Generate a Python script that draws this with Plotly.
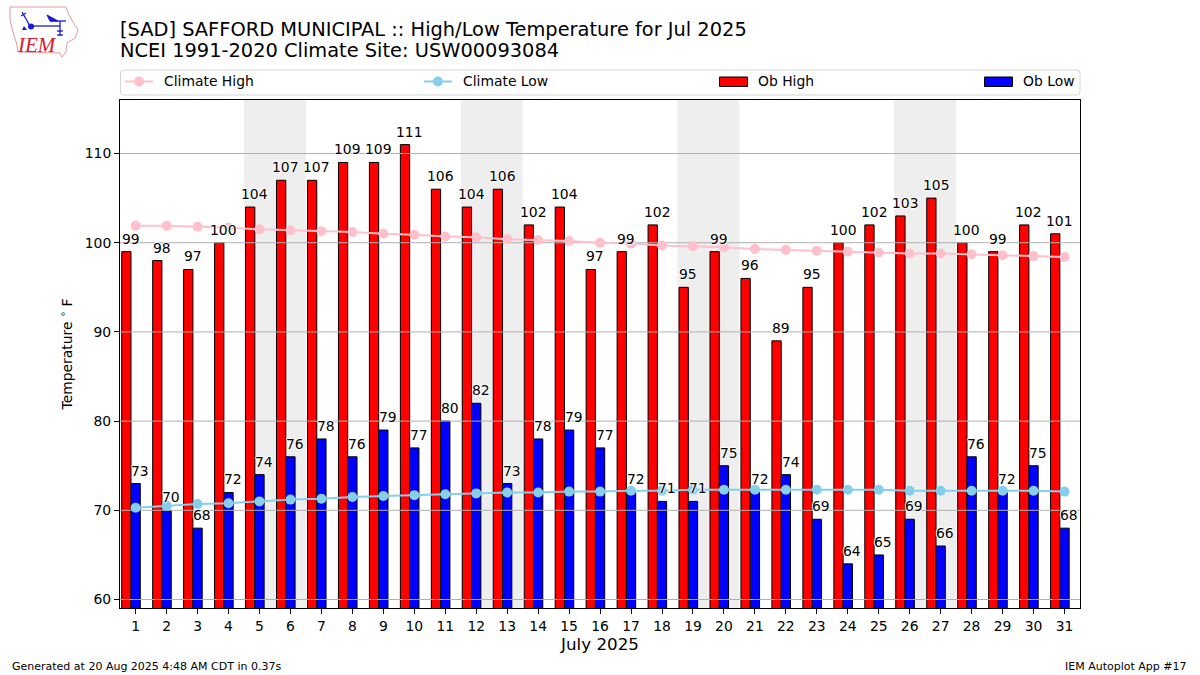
import plotly.graph_objects as go

days = list(range(1, 32))
ob_high = [99, 98, 97, 100, 104, 107, 107, 109, 109, 111, 106, 104, 106, 102, 104, 97,
           99, 102, 95, 99, 96, 89, 95, 100, 102, 103, 105, 100, 99, 102, 101]
ob_low = [73, 70, 68, 72, 74, 76, 78, 76, 79, 77, 80, 82, 73, 78, 79, 77,
          72, 71, 71, 75, 72, 74, 69, 64, 65, 69, 66, 76, 72, 75, 68]
climate_high = [101.9, 101.9, 101.8, 101.7, 101.5, 101.4, 101.3, 101.2, 101.0, 100.9, 100.7,
                100.6, 100.4, 100.3, 100.2, 100.0, 99.9, 99.7, 99.6, 99.5, 99.3, 99.2, 99.1,
                99.0, 98.9, 98.8, 98.8, 98.7, 98.6, 98.5, 98.4]
climate_low = [70.3, 70.5, 70.7, 70.8, 71.0, 71.2, 71.3, 71.5, 71.6, 71.7, 71.8,
               71.9, 72.0, 72.0, 72.1, 72.1, 72.2, 72.2, 72.3, 72.3, 72.3, 72.3, 72.3,
               72.3, 72.3, 72.2, 72.2, 72.2, 72.2, 72.2, 72.1]
y_ticks = [60, 70, 80, 90, 100, 110]
weekends = [5, 12, 19, 26]

FONT = "DejaVu Sans"
WIDTH, HEIGHT = 1200, 675
L, R, T, B = 120, 1080, 100, 608
HALO = "1px 0 1px #fff, -1px 0 1px #fff, 0 1px 1px #fff, 0 -1px 1px #fff"
LOGO_BLUE = "#1a1ad0"


def px(x):
    return (x - L) / (R - L)


def py(y):
    return (B - y) / (B - T)


def path(points, close=False):
    d = "M" + " L".join(f"{px(x):.5f},{py(y):.5f}" for x, y in points)
    return d + (" Z" if close else "")


def paper_shape(**kw):
    return dict(xref="paper", yref="paper", **kw)


def paper_text(text, x, y, size=13.9, color="black", anchor="left", family=FONT):
    return dict(text=text, xref="paper", yref="paper", x=px(x), y=py(y), showarrow=False,
                xanchor=anchor, yanchor="middle", borderpad=0,
                font=dict(family=family, size=size, color=color))


fig = go.Figure()

# observed bars, sitting just left of and on the day tick
fig.add_trace(go.Bar(x=days, y=ob_high, width=0.3, offset=-0.45, name="Ob High",
                     marker=dict(color="red", line=dict(color="black", width=1))))
fig.add_trace(go.Bar(x=days, y=ob_low, width=0.3, offset=-0.15, name="Ob Low",
                     marker=dict(color="blue", line=dict(color="black", width=1))))

# grid sits on top of the bars in the original, so it has to be a trace
grid_x, grid_y = [], []
for t in y_ticks:
    grid_x += [0.4, 31.6, None]
    grid_y += [t, t, None]
fig.add_trace(go.Scatter(x=grid_x, y=grid_y, mode="lines", hoverinfo="skip",
                         line=dict(color="#b0b0b0", width=1)))

fig.add_trace(go.Scatter(x=days, y=climate_high, mode="lines+markers", name="Climate High",
                         line=dict(color="pink", width=2), marker=dict(color="pink", size=10)))
fig.add_trace(go.Scatter(x=days, y=climate_low, mode="lines+markers", name="Climate Low",
                         line=dict(color="skyblue", width=2), marker=dict(color="skyblue", size=10)))

shapes = []
for d in weekends:
    shapes.append(dict(type="rect", xref="x", yref="paper", x0=d - 0.5, x1=d + 1.5, y0=0, y1=1,
                       fillcolor="#eeeeee", line_width=0, layer="below"))

# legend box, matplotlib "expand" spacing is not something plotly's legend can do
lx0, lx1, ly0, ly1 = 120.5, 1080, 70, 95
r = 3
box = (f"M{px(lx0 + r):.5f},{py(ly0):.5f} L{px(lx1 - r):.5f},{py(ly0):.5f} "
       f"Q{px(lx1):.5f},{py(ly0):.5f} {px(lx1):.5f},{py(ly0 + r):.5f} "
       f"L{px(lx1):.5f},{py(ly1 - r):.5f} Q{px(lx1):.5f},{py(ly1):.5f} {px(lx1 - r):.5f},{py(ly1):.5f} "
       f"L{px(lx0 + r):.5f},{py(ly1):.5f} Q{px(lx0):.5f},{py(ly1):.5f} {px(lx0):.5f},{py(ly1 - r):.5f} "
       f"L{px(lx0):.5f},{py(ly0 + r):.5f} Q{px(lx0):.5f},{py(ly0):.5f} {px(lx0 + r):.5f},{py(ly0):.5f} Z")
shapes.append(paper_shape(type="path", path=box, line=dict(color="#d5d5d5", width=1), fillcolor="white"))
for x0, color in ((125, "pink"), (424, "skyblue")):
    shapes.append(paper_shape(type="line", x0=px(x0), x1=px(x0 + 28), y0=py(81.5), y1=py(81.5),
                              line=dict(color=color, width=2)))
    shapes.append(paper_shape(type="circle", x0=px(x0 + 9), x1=px(x0 + 19), y0=py(86.5), y1=py(76.5),
                              fillcolor=color, line_width=0))
for x0, color in ((719.5, "red"), (984.5, "blue")):
    shapes.append(paper_shape(type="rect", x0=px(x0), x1=px(x0 + 28), y0=py(86.5), y1=py(77),
                              fillcolor=color, line=dict(color="black", width=1)))

# IEM logo, state outline and station glyph
shapes.append(paper_shape(type="path", line=dict(color="#e59a9a", width=1), path=path(
    [(10, 7), (66, 7), (68, 13), (73, 22), (78, 30), (75, 38), (67, 43), (66, 52),
     (62, 57), (60, 53), (18, 52), (17, 45), (13, 32), (10, 20)], close=True)))
for seg in ([(31, 26), (60, 26)], [(60, 21), (60, 36)], [(22, 12), (30, 26)], [(50, 21), (66, 21)],
            [(21, 16), (26, 13)], [(57, 31), (63, 31)], [(57, 35), (63, 35)]):
    shapes.append(paper_shape(type="path", path=path(seg), line=dict(color=LOGO_BLUE, width=1.3)))
shapes.append(paper_shape(type="path", path=path([(47, 15), (58, 21), (50, 21)], close=True),
                          fillcolor=LOGO_BLUE, line=dict(color=LOGO_BLUE, width=1)))
shapes.append(paper_shape(type="path", path=path([(24, 26), (27, 30), (22, 30)], close=True),
                          fillcolor=LOGO_BLUE, line_width=0))
shapes.append(paper_shape(type="circle", x0=px(28), x1=px(34), y0=py(29.5), y1=py(23.5),
                          fillcolor=LOGO_BLUE, line_width=0))

annotations = [
    paper_text("[SAD] SAFFORD MUNICIPAL :: High/Low Temperature for Jul 2025", 119, 29, size=19.4),
    paper_text("NCEI 1991-2020 Climate Site: USW00093084", 119, 51, size=19.4),
    paper_text("Climate High", 163, 81),
    paper_text("Climate Low", 462, 81),
    paper_text("Ob High", 757, 81),
    paper_text("Ob Low", 1022, 81),
    paper_text("<i>IEM</i>", 37, 45, size=21, color="#d02030", anchor="center", family="Liberation Serif"),
    paper_text("Generated at 20 Aug 2025 4:48 AM CDT in 0.37s", 11, 666, size=11),
    paper_text("IEM Autoplot App #17", 1188, 666, size=11, anchor="right"),
]

# value labels above each bar
for vals, dx in ((ob_high, -0.15), (ob_low, 0.15)):
    for d, v in zip(days, vals):
        annotations.append(dict(x=d + dx, y=v, xref="x", yref="y", text=str(v), showarrow=False,
                                xanchor="center", yanchor="bottom", yshift=4, borderpad=0,
                                font=dict(family=FONT, size=13.9, color="black", shadow=HALO)))

axis_line = dict(showline=True, linecolor="black", linewidth=1, mirror=True, ticks="outside",
                 ticklen=5, tickwidth=1, tickcolor="black", showgrid=False, zeroline=False,
                 tickfont=dict(family=FONT, size=13.9, color="black"))

fig.update_layout(
    width=WIDTH, height=HEIGHT, autosize=False,
    margin=dict(l=L, r=WIDTH - R, t=T, b=HEIGHT - B, pad=0),
    paper_bgcolor="white", plot_bgcolor="white",
    barmode="overlay", showlegend=False,
    shapes=shapes, annotations=annotations,
    xaxis=dict(range=[0.495, 31.5], tickmode="array", tickvals=days, ticktext=[str(d) for d in days],
               title=dict(text="July 2025", font=dict(family=FONT, size=16.7, color="black"), standoff=5),
               **axis_line),
    yaxis=dict(range=[59.05, 116], tickmode="array", tickvals=y_ticks, ticktext=[str(t) for t in y_ticks],
               title=dict(text="Temperature <sup>∘</sup> F", font=dict(family=FONT, size=13.9, color="black"), standoff=8),
               **axis_line),
)

fig.write_html("out.html", post_script="document.body.style.margin='0';",
               config={"displayModeBar": False})
